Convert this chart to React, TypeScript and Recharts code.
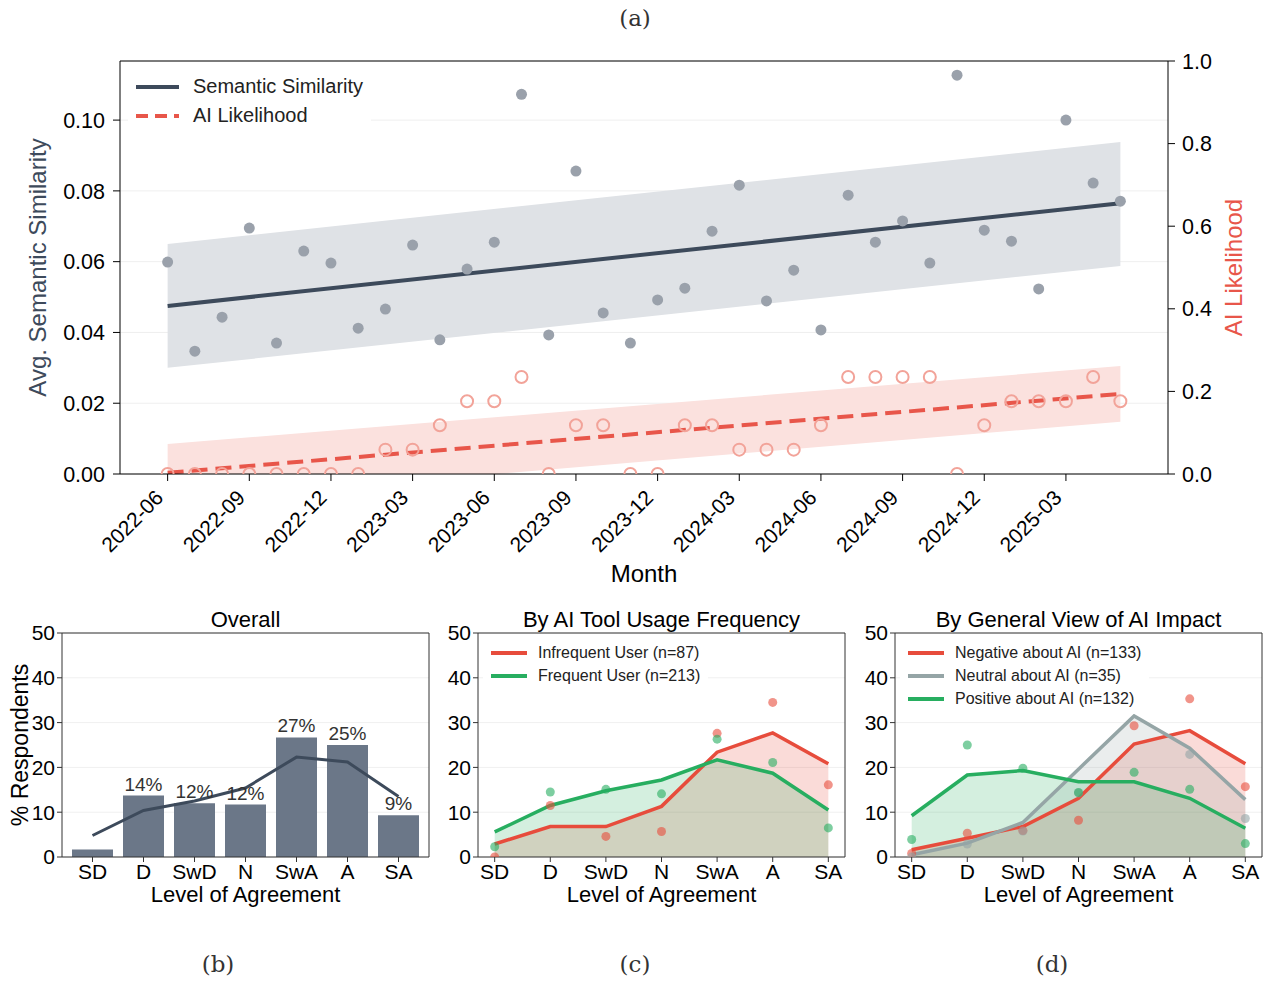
import React from "react";
import {
  ComposedChart,
  Line,
  Area,
  Bar,
  XAxis,
  YAxis,
  CartesianGrid,
  Legend,
  LabelList,
} from "recharts";

const FONT = "'Liberation Sans', Arial, Helvetica, sans-serif";
const SERIF = "'DejaVu Serif', serif";

// ---- (a) monthly series ----
const months = [
  "2022-06", "2022-07", "2022-08", "2022-09", "2022-10", "2022-11",
  "2022-12", "2023-01", "2023-02", "2023-03", "2023-04", "2023-05",
  "2023-06", "2023-07", "2023-08", "2023-09", "2023-10", "2023-11",
  "2023-12", "2024-01", "2024-02", "2024-03", "2024-04", "2024-05",
  "2024-06", "2024-07", "2024-08", "2024-09", "2024-10", "2024-11",
  "2024-12", "2025-01", "2025-02", "2025-03", "2025-04", "2025-05",
];
const monthTicks = [0, 3, 6, 9, 12, 15, 18, 21, 24, 27, 30, 33];

const semanticSim = [
  0.0599, 0.0347, 0.0443, 0.0695, 0.037, 0.063,
  0.0596, 0.0412, 0.0466, 0.0647, 0.0379, 0.0579,
  0.0655, 0.1073, 0.0393, 0.0856, 0.0455, 0.037,
  0.0492, 0.0525, 0.0686, 0.0816, 0.0489, 0.0576,
  0.0407, 0.0788, 0.0655, 0.0715, 0.0596, 0.1127,
  0.0689, 0.0658, 0.0523, 0.1, 0.0822, 0.0771,
];
const aiLikelihood = [
  0, 0, 0, 0, 0, 0,
  0, 0, 0.059, 0.059, 0.118, 0.176,
  0.176, 0.235, 0, 0.118, 0.118, 0,
  0, 0.118, 0.118, 0.059, 0.059, 0.059,
  0.118, 0.235, 0.235, 0.235, 0.235, 0,
  0.118, 0.176, 0.176, 0.176, 0.235, 0.176,
];

// fitted trend (first / last month) and its band
const semFitEnds = [0.0475, 0.0765];
const semBandEnds = [[0.03, 0.065], [0.0588, 0.0938]];
const aiFitEnds = [0.003, 0.194];
const aiBandEnds = [[-0.067, 0.0726], [0.1266, 0.2615]];

const leftTicks = [0, 0.02, 0.04, 0.06, 0.08, 0.1];
const rightTicks = [0, 0.2, 0.4, 0.6, 0.8, 1.0];

// ---- (b)-(d) agreement panels ----
const agreeCats = ["SD", "D", "SwD", "N", "SwA", "A", "SA"];
const agreeTicks = [0, 1, 2, 3, 4, 5, 6];
const pctTicks = [0, 10, 20, 30, 40, 50];

const overallPct = [1.7, 13.7, 12.0, 11.7, 26.7, 25.0, 9.3];
const overallLabels = ["", "14%", "12%", "12%", "27%", "25%", "9%"];
const overallTrend = [4.8, 10.4, 12.5, 15.4, 22.3, 21.2, 13.5];

const infreqPct = [0, 11.5, 4.6, 5.7, 27.6, 34.5, 16.1];
const infreqSmooth = [2.9, 6.8, 6.8, 11.3, 23.4, 27.7, 20.8];
const freqPct = [2.3, 14.5, 15.1, 14.1, 26.3, 21.1, 6.5];
const freqSmooth = [5.6, 11.5, 14.8, 17.2, 21.7, 18.7, 10.5];

const negPct = [0.8, 5.3, 5.9, 8.2, 29.3, 35.3, 15.7];
const negSmooth = [1.6, 4.2, 6.8, 13.1, 25.2, 28.2, 20.8];
const neuPct = [0, 2.9, 5.8, 14.3, 45.7, 22.9, 8.6];
const neuSmooth = [0.5, 3.1, 7.7, 19.6, 31.5, 24.3, 12.8];
const posPct = [3.9, 25.0, 19.8, 14.4, 18.9, 15.1, 3.0];
const posSmooth = [9.2, 18.3, 19.3, 16.8, 16.8, 13.1, 6.4];

const RED = "#e74c3c";
const GREEN = "#27ae60";
const GRAY = "#95a5a6";
const SLATE = "#3d4a5b";

const last = months.length - 1;
const ends = (pair: any[], i: number) => (i === 0 ? pair[0] : i === last ? pair[1] : null);

const topData = months.map((month, i) => ({
  i,
  month,
  sem: semanticSim[i],
  ai: aiLikelihood[i],
  semFit: ends(semFitEnds, i),
  semBand: ends(semBandEnds, i),
  aiFit: ends(aiFitEnds, i),
  aiBand: ends(aiBandEnds, i),
}));

const overallData = agreeCats.map((cat, i) => ({
  cat,
  pct: overallPct[i],
  lbl: overallLabels[i],
  trend: overallTrend[i],
}));

type LegendItem = { label: string; color: string; dash?: string };

function LegendBox({ items, fontSize, rowH, lineLen, gap }: { items: LegendItem[]; fontSize: number; rowH: number; lineLen: number; gap: number }) {
  return (
    <div style={{ background: "#fff", padding: "4px 8px 4px 8px", fontFamily: FONT }}>
      {items.map((it) => (
        <div key={it.label} style={{ display: "flex", alignItems: "center", height: rowH, whiteSpace: "nowrap" }}>
          <svg width={lineLen} height={8} style={{ marginRight: gap }}>
            <line x1={0} y1={4} x2={lineLen} y2={4} stroke={it.color} strokeWidth={4} strokeDasharray={it.dash} />
          </svg>
          <span style={{ fontSize, color: "#222" }}>{it.label}</span>
        </div>
      ))}
    </div>
  );
}

// rotated month label, end of text sits just under the tick
function MonthTick({ x, y, payload }: any) {
  return (
    <g transform={`translate(${x},${y})`}>
      <text x={-3} y={16} transform="rotate(-45 -3 16)" textAnchor="end" fontSize={21} fill="#000">
        {months[payload.value]}
      </text>
    </g>
  );
}

function TopChart() {
  const tickStyle = { fontSize: 21.5, fill: "#000" };
  return (
    <div style={{ position: "absolute", left: 0, top: 0, fontFamily: FONT }}>
      <ComposedChart width={1269} height={600} data={topData} margin={{ top: 60, right: 1, bottom: 6, left: 20 }}>
        <CartesianGrid yAxisId="left" vertical={false} stroke="#efefef" />
        <XAxis
          dataKey="i"
          type="number"
          domain={[-1.75, 36.75]}
          allowDataOverflow
          ticks={monthTicks}
          interval={0}
          tick={<MonthTick />}
          tickSize={7}
          height={120}
          stroke="#000"
          label={{ value: "Month", position: "insideBottom", offset: 12, fontSize: 24, fill: "#000" }}
        />
        <XAxis xAxisId="top" orientation="top" type="number" domain={[-1.75, 36.75]} allowDataOverflow tick={false} tickLine={false} height={1} stroke="#000" />
        <YAxis
          yAxisId="left"
          type="number"
          domain={[0, 0.1167]}
          allowDataOverflow
          ticks={leftTicks}
          tickFormatter={(v: number) => v.toFixed(2)}
          tick={tickStyle}
          tickSize={7}
          tickMargin={8}
          width={100}
          stroke="#000"
          label={{ value: "Avg. Semantic Similarity", angle: -90, position: "insideLeft", offset: 17, fontSize: 24, fill: SLATE, style: { textAnchor: "middle" } }}
        />
        <YAxis
          yAxisId="right"
          orientation="right"
          type="number"
          domain={[0, 1]}
          allowDataOverflow
          ticks={rightTicks}
          tickFormatter={(v: number) => v.toFixed(1)}
          tick={tickStyle}
          tickSize={7}
          tickMargin={7}
          width={100}
          stroke="#000"
          label={{ value: "AI Likelihood", angle: -90, position: "insideRight", offset: 35, fontSize: 24, fill: "#e8564a", style: { textAnchor: "middle" } }}
        />
        <Area yAxisId="right" dataKey="aiBand" stroke="none" fill="#fbe1de" fillOpacity={1} connectNulls isAnimationActive={false} legendType="none" />
        <Area yAxisId="left" dataKey="semBand" stroke="none" fill="#dfe2e6" fillOpacity={1} connectNulls isAnimationActive={false} legendType="none" />
        <Line yAxisId="left" dataKey="sem" stroke="none" dot={{ r: 5.5, fill: "#9aa1ab", stroke: "none" }} activeDot={false} isAnimationActive={false} legendType="none" />
        <Line yAxisId="right" dataKey="ai" stroke="none" dot={{ r: 6, fill: "none", stroke: "#f2a399", strokeWidth: 2 }} activeDot={false} isAnimationActive={false} legendType="none" />
        <Line yAxisId="left" dataKey="semFit" stroke={SLATE} strokeWidth={4} dot={false} connectNulls isAnimationActive={false} />
        <Line yAxisId="right" dataKey="aiFit" stroke="#e8564a" strokeWidth={4} strokeDasharray="16 8" dot={false} connectNulls isAnimationActive={false} />
        <Legend
          layout="vertical"
          align="center"
          verticalAlign="middle"
          wrapperStyle={{ left: 128, top: 68, width: "auto", height: "auto" }}
          content={() => (
            <LegendBox
              fontSize={20}
              rowH={29}
              lineLen={43}
              gap={14}
              items={[
                { label: "Semantic Similarity", color: SLATE },
                { label: "AI Likelihood", color: "#e8564a", dash: "12 7" },
              ]}
            />
          )}
        />
      </ComposedChart>
    </div>
  );
}

const axisColor = "#333";
const smallTick = { fontSize: 21, fill: "#000" };

function OverallChart() {
  return (
    <div style={{ position: "absolute", left: 0, top: 600, fontFamily: FONT }}>
      <ComposedChart width={440} height={310} data={overallData} margin={{ top: 32, right: 10, bottom: 3, left: 12 }}>
        <CartesianGrid vertical={false} stroke="#f0f0f0" />
        <XAxis
          dataKey="cat"
          padding={{ left: 5, right: 5 }}
          tick={smallTick}
          tickSize={5}
          interval={0}
          height={50}
          stroke={axisColor}
          label={{ value: "Level of Agreement", position: "insideBottom", offset: 5, fontSize: 22, fill: "#000" }}
        />
        <XAxis
          xAxisId="top"
          orientation="top"
          type="number"
          domain={[0, 1]}
          allowDataOverflow
          tick={false}
          tickLine={false}
          height={1}
          stroke={axisColor}
          label={{ value: "Overall", position: "top", offset: 5, fontSize: 22, fill: "#000" }}
        />
        <YAxis
          type="number"
          domain={[0, 50]}
          allowDataOverflow
          ticks={pctTicks}
          tick={smallTick}
          tickSize={5}
          width={50}
          stroke={axisColor}
          label={{ value: "% Respondents", angle: -90, position: "insideLeft", offset: 8, fontSize: 23, fill: "#000", style: { textAnchor: "middle" } }}
        />
        <YAxis yAxisId="box" orientation="right" type="number" domain={[0, 50]} allowDataOverflow tick={false} tickLine={false} width={1} stroke={axisColor} />
        <Bar dataKey="pct" fill="#6b7788" barSize={41} isAnimationActive={false}>
          <LabelList dataKey="lbl" position="top" offset={5} fontSize={19} fill="#333" />
        </Bar>
        <Line dataKey="trend" stroke={SLATE} strokeWidth={3} dot={false} isAnimationActive={false} />
      </ComposedChart>
    </div>
  );
}

type Group = { key: string; label: string; color: string; pct: number[]; smooth: number[] };

function GroupChart({ left, width, marginLeft, marginRight, title, groups, legendLeft }: {
  left: number; width: number; marginLeft: number; marginRight: number; title: string; groups: Group[]; legendLeft: number;
}) {
  const data = agreeCats.map((cat, i) => {
    const row: any = { i, cat };
    groups.forEach((g) => {
      row[g.key] = g.smooth[i];
      row[g.key + "Raw"] = g.pct[i];
    });
    return row;
  });
  return (
    <div style={{ position: "absolute", left, top: 600, fontFamily: FONT }}>
      <ComposedChart width={width} height={310} data={data} margin={{ top: 32, right: marginRight - 1, bottom: 3, left: marginLeft }}>
        <CartesianGrid vertical={false} stroke="#f0f0f0" />
        <XAxis
          dataKey="i"
          type="number"
          domain={[-0.3, 6.3]}
          allowDataOverflow
          ticks={agreeTicks}
          interval={0}
          tickFormatter={(v: number) => agreeCats[v]}
          tick={smallTick}
          tickSize={5}
          height={50}
          stroke={axisColor}
          label={{ value: "Level of Agreement", position: "insideBottom", offset: 5, fontSize: 22, fill: "#000" }}
        />
        <XAxis
          xAxisId="top"
          orientation="top"
          type="number"
          domain={[-0.3, 6.3]}
          allowDataOverflow
          tick={false}
          tickLine={false}
          height={1}
          stroke={axisColor}
          label={{ value: title, position: "top", offset: 5, fontSize: 22, fill: "#000" }}
        />
        <YAxis
          type="number"
          domain={[0, 50]}
          allowDataOverflow
          ticks={pctTicks}
          tick={smallTick}
          tickSize={5}
          width={40}
          stroke={axisColor}
        />
        <YAxis yAxisId="box" orientation="right" type="number" domain={[0, 50]} allowDataOverflow tick={false} tickLine={false} width={1} stroke={axisColor} />
        {groups.map((g) => (
          <Area
            key={g.key + "area"}
            dataKey={g.key}
            stroke="none"
            fill={g.color}
            fillOpacity={0.2}
            isAnimationActive={false}
            legendType="none"
          />
        ))}
        {groups.map((g) => (
          <Line
            key={g.key + "dots"}
            dataKey={g.key + "Raw"}
            stroke="none"
            dot={{ r: 4.5, fill: g.color, fillOpacity: 0.6, stroke: "none" }}
            activeDot={false}
            isAnimationActive={false}
            legendType="none"
          />
        ))}
        {groups.map((g) => (
          <Line key={g.key + "line"} dataKey={g.key} stroke={g.color} strokeWidth={3.5} dot={false} isAnimationActive={false} />
        ))}
        <Legend
          layout="vertical"
          align="center"
          verticalAlign="middle"
          wrapperStyle={{ left: legendLeft, top: 37, width: "auto", height: "auto" }}
          content={() => (
            <LegendBox fontSize={16} rowH={23} lineLen={36} gap={11} items={groups.map((g) => ({ label: g.label, color: g.color }))} />
          )}
        />
      </ComposedChart>
    </div>
  );
}

const usageGroups: Group[] = [
  { key: "inf", label: "Infrequent User (n=87)", color: RED, pct: infreqPct, smooth: infreqSmooth },
  { key: "freq", label: "Frequent User (n=213)", color: GREEN, pct: freqPct, smooth: freqSmooth },
];

const viewGroups: Group[] = [
  { key: "neg", label: "Negative about AI (n=133)", color: RED, pct: negPct, smooth: negSmooth },
  { key: "neu", label: "Neutral about AI (n=35)", color: GRAY, pct: neuPct, smooth: neuSmooth },
  { key: "pos", label: "Positive about AI (n=132)", color: GREEN, pct: posPct, smooth: posSmooth },
];

function Caption({ text, x, y }: { text: string; x: number; y: number }) {
  return (
    <div
      style={{
        position: "absolute",
        left: x - 50,
        top: y - 15,
        width: 100,
        height: 30,
        lineHeight: "30px",
        textAlign: "center",
        fontFamily: SERIF,
        fontSize: 23,
        color: "#333",
      }}
    >
      {text}
    </div>
  );
}

export default function App() {
  return (
    <div style={{ position: "absolute", left: 0, top: 0, width: 1269, height: 981, background: "#fff" }}>
      <Caption text="(a)" x={635} y={18} />
      <TopChart />
      <OverallChart />
      <GroupChart left={430} width={430} marginLeft={8} marginRight={15} title="By AI Tool Usage Frequency" groups={usageGroups} legendLeft={53} />
      <GroupChart left={850} width={419} marginLeft={5} marginRight={7} title="By General View of AI Impact" groups={viewGroups} legendLeft={50} />
      <Caption text="(b)" x={218} y={964} />
      <Caption text="(c)" x={635} y={964} />
      <Caption text="(d)" x={1052} y={964} />
    </div>
  );
}
